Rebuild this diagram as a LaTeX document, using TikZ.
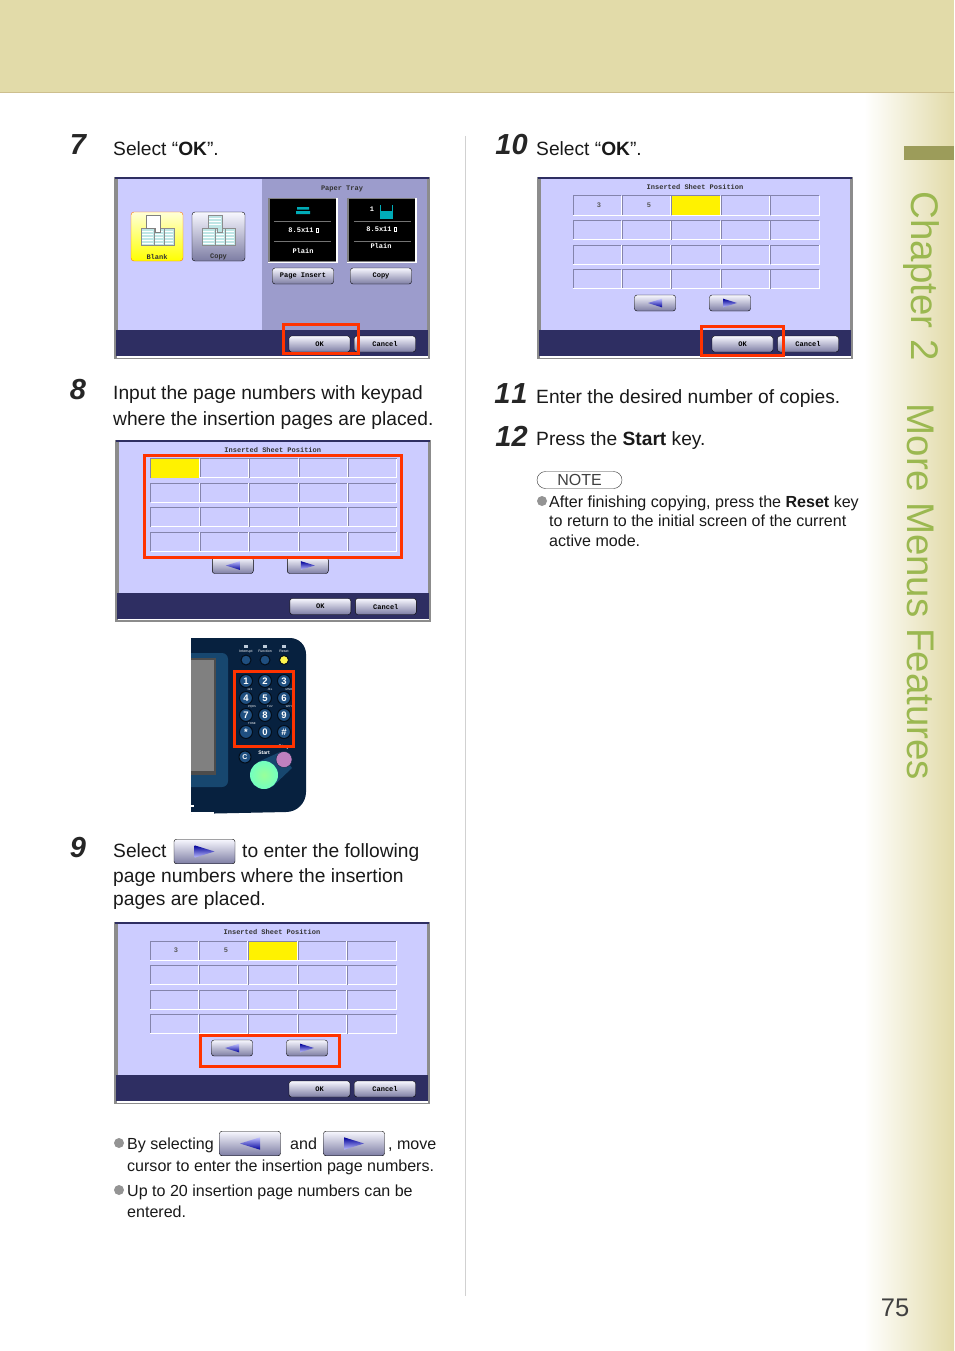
\documentclass[tikz,border=0pt]{standalone}
\usepackage{fontspec}
\setmainfont{Liberation Sans}
\newfontfamily\screenfont{Liberation Mono}
\usetikzlibrary{calc,positioning}
\definecolor{bandtan}{HTML}{E2DBA9}
\definecolor{bandline}{HTML}{CDBF8E}
\definecolor{tabolive}{HTML}{9C9C5A}
\definecolor{chapgreen}{HTML}{9BB850}
\definecolor{panelblue}{HTML}{CCCCFF}
\definecolor{traypanel}{HTML}{9C9CCC}
\definecolor{navyband}{HTML}{2E2E62}
\definecolor{markred}{HTML}{FF3300}
\definecolor{cellgray}{HTML}{8484AC}
\definecolor{keynavy}{HTML}{07213F}
\definecolor{bezelblue}{HTML}{17476F}
\definecolor{keyblue}{HTML}{1F4F80}
\definecolor{sheetcyan}{HTML}{BFE6E6}
\tikzset{
  txt/.style={anchor=base west,inner sep=0pt,text=black!90,font=\fontsize{19.2}{23}\selectfont},
  small/.style={txt,font=\fontsize{16.05}{20}\selectfont},
  stepno/.style={anchor=base,inner sep=0pt,text=black!85,font=\fontsize{29}{31}\selectfont\bfseries\itshape},
  dot/.style={circle,fill=black!42,minimum size=10pt,inner sep=0pt},
  btn/.style={draw=black,rounded corners=2.5pt,top color=white!85!panelblue,bottom color=black!20!traypanel,
    minimum width=61pt,minimum height=16pt,inner sep=0pt,font=\screenfont\bfseries\fontsize{7}{8}\selectfont},
  navbtn/.style={btn,minimum width=41pt},
  bigbtn/.style={btn,minimum width=61pt,minimum height=24.5pt},
  scrtxt/.style={inner sep=0pt,text=black!80,font=\screenfont\bfseries\fontsize{7}{8}\selectfont},
  traytxt/.style={scrtxt,text=white},
  redbox/.style={draw=markred,line width=3pt},
  numkey/.style={circle,fill=keyblue,draw=black!60!keynavy,line width=1pt,minimum size=13pt,inner sep=0pt,
    text=white,font=\bfseries\fontsize{9.5}{9}\selectfont},
  tiny/.style={inner sep=0pt,text=white,font=\fontsize{3.5}{4}\selectfont},
  sheet/.style={fill=sheetcyan,draw=black!45,line width=.4pt},
}
% triangle on a button: #1 node, #2 direction (1 or -1), #3 half length
\newcommand{\navtri}[3]{
  \shade[left color=blue!60!black,right color=blue!25!white,shading angle={90-90*#2}]
    ($(#1)+(-#2*#3,-0.62*#3)$) -- ($(#1)+(-#2*#3,0.62*#3)$) -- ($(#1)+(#2*#3,0)$) -- cycle;
}
% screen body, drawn from its top left corner
\newcommand{\screenbody}{
  \fill[black!45] (0,0) rectangle (316,182);
  \fill[white] (3,179) rectangle (314,180.5);
  \fill[navyband] (1,0) rectangle (315,2);
  \fill[panelblue] (4,2) rectangle (313,153);
  \fill[navyband] (2,153) rectangle (314,179);
}
% #1 suffix of the names
\newcommand{\okcancel}[1]{
  \node[btn] (ok#1) at (205.5,167) {OK};
  \node[btn] (cancel#1) at (271,167) {Cancel};
}
\newcommand{\sheetgrid}[2]{
  \node[scrtxt] (title#1) at (158,10) {Inserted Sheet Position};
  \foreach \r in {0,...,3} \foreach \c in {0,...,4} {
    \pgfmathsetmacro{\cx}{36+49.4*\c}
    \pgfmathsetmacro{\cy}{19+24.6*\r}
    \draw[cellgray,line width=1pt] (\cx,\cy+19) |- (\cx+48.4,\cy);
    \draw[white,line width=1pt] (\cx,\cy+19) -| (\cx+48.4,\cy);
  }
  \fill[yellow] (36.5+49.4*#2,19.5) rectangle (84+49.4*#2,38);
  \node[navbtn] (prev#1) at (118,126) {};
  \node[navbtn] (next#1) at (193,126) {};
  \navtri{prev#1}{-1}{7}
  \navtri{next#1}{1}{7}
}
\newcommand{\sheetstack}[1]{
  \foreach \s in {20,10,0} {
    \fill[sheet] (#1+\s,228) rectangle (#1+\s+13,245);
    \foreach \l in {231,234,...,243} \draw[white,line width=.8pt] (#1+\s+1,\l) -- (#1+\s+12,\l);
  }
}
\begin{document}
\begin{tikzpicture}[x=1pt,y=-1pt]
  \useasboundingbox (0,0) rectangle (954,1351);
  % page background
  \shade[left color=white,right color=bandtan] (864,92) rectangle (954,1351);
  \fill[bandtan] (0,0) rectangle (954,92);
  \draw[bandline] (0,92) -- (954,92);
  \fill[tabolive] (904,146) rectangle (954,160);
  \draw[black!18] (465.5,136) -- (465.5,1296);
  \node[rotate=-90,inner sep=0pt,text=chapgreen,font=\fontsize{38.5}{40}\selectfont] (chap) at (921,276) {Chapter 2};
  \node[rotate=-90,inner sep=0pt,text=chapgreen,font=\fontsize{38.5}{40}\selectfont] (menus) at (921,592) {More Menus Features};
  \node[inner sep=0pt,text=black!75,font=\fontsize{25.5}{26}\selectfont] (pageno) at (895,1308) {75};

  % step 7
  \node[stepno] (n7) at (78,155) {7};
  \node[txt] (t7) at (113,155.5) {Select “\textbf{OK}”.};
  \begin{scope}[shift={(114,177)}]
    \screenbody
    \fill[traypanel] (148,2) rectangle (313,153);
    \okcancel{7}
    \node[scrtxt] (tray) at (228,12) {Paper Tray};
    \node[btn,minimum width=52pt,minimum height=49pt,draw=orange!90!red,top color=white!85!yellow,bottom color=yellow,rounded corners=3pt] (blank) at (43,59.5) {};
    \node[btn,minimum width=53pt,minimum height=49pt,rounded corners=3pt] (copyicon) at (104.5,59.5) {};
    \node[scrtxt] (blanktxt) at (43,80) {Blank};
    \node[scrtxt] (copytxt) at (104.5,80) {Copy};
    \node[btn] (pageins) at (189,99) {Page Insert};
    \node[btn] (copybtn) at (267,99) {Copy};
  \end{scope}
  \sheetstack{141}
  \fill[white,draw=black!50,line width=.4pt] (146,215) -- (160,215) -- (160,232) -- (155,232) -- (155,228) -- (146,228) -- cycle;
  \sheetstack{202}
  \fill[sheet] (208,215) -- (222,215) -- (222,232) -- (217,232) -- (217,228) -- (208,228) -- cycle;
  \foreach \l in {218,221,224} \draw[white,line width=.8pt] (209,\l) -- (221,\l);
  % the two paper tray panels
  \fill[white] (268,198) rectangle (337.5,263);
  \fill[black!50] (268,198) rectangle (336,261.5);
  \fill[black] (269.5,199.5) rectangle (335.5,261);
  \fill[white] (347,198) rectangle (416.5,263);
  \fill[black!50] (347,198) rectangle (415,261.5);
  \fill[black] (348.5,199.5) rectangle (414.5,261);
  \foreach \x in {274,354} \foreach \y in {221,241} \draw[black!55] (\x,\y) -- (\x+57,\y);
  \fill[cyan!65!green] (297,207) rectangle (309,209.5) (296,211) rectangle (310,214);
  \node[traytxt] (size1) at (301,230) {8.5x11};
  \draw[white,line width=.4pt] (316,228) rectangle (318.5,232);
  \node[traytxt] (plain1) at (303,251) {Plain};
  \node[traytxt] (one) at (372,209.5) {1};
  \draw[cyan!65!green,line width=1pt] (380,205) -- (380,218) -- (392,218) -- (392,205);
  \fill[cyan!65!green] (380,211) rectangle (392,218);
  \node[traytxt] (size2) at (379,229.5) {8.5x11};
  \draw[white,line width=.4pt] (394,227.5) rectangle (396.5,231.5);
  \node[traytxt] (plain2) at (381,246) {Plain};
  \draw[redbox] (283,324) rectangle (358,353);

  % step 8
  \node[stepno] (n8) at (78,399) {8};
  \node[txt] (t8a) at (113,399) {Input the page numbers with keypad};
  \node[txt] (t8b) at (113,425) {where the insertion pages are placed.};
  \begin{scope}[shift={(114.8,439.5)}]
    \screenbody
    \okcancel{8}
    \sheetgrid{8}{0}
  \end{scope}
  \draw[redbox] (144,455) rectangle (401,557);

  % keypad photo
  \fill[keynavy] (191,638) -- (290,638) to[out=0,in=90] (306,654) -- (306,792) to[out=-90,in=0] (286,812) -- (191,814) -- cycle;
  \fill[bezelblue,rounded corners=6pt] (185,653) -- (228,653) -- (228,787) -- (185,787) -- cycle;
  \fill[white] (180,640) rectangle (191,815);
  \fill[black!70] (191,658) -- (216,658) -- (216,775) -- (191,775) -- cycle;
  \fill[black!50] (191,660) -- (214,660) -- (214,771) -- (191,771) -- cycle;
  \fill[white] (191,812) rectangle (214,814);
  \fill[white] (191,805) rectangle (194,807);
  \foreach \k/\x/\y/\c in {1/246/681/1,2/265/681/2,3/284/681/3,4/246/698/4,5/265/698/5,6/284/698/6,7/246/715/7,8/265/715/8,9/284/715/9,10/246/732/*,11/265/732/0,12/284/732/\#}
    \node[numkey] (key\k) at (\x,\y) {\c};
  \foreach \k/\x/\y/\c in {2/270/673/ABC,3/289/673/DEF,4/250/689.5/GHI,5/270/689.5/JKL,6/289/689.5/MNO,7/252/706.5/PQRS,8/270/706.5/TUV,9/289/706.5/WXY,10/252/724/TONE}
    \node[tiny,font=\fontsize{2.8}{3}\selectfont] (sub\k) at (\x,\y) {\c};
  \node[numkey,minimum size=10pt] (intr) at (246,660) {};
  \node[numkey,minimum size=10pt] (func) at (265,660) {};
  \node[numkey,minimum size=9pt,fill=yellow!70!white] (resetkey) at (284,660) {};
  \node[tiny] (intrtxt) at (246,651.5) {Interrupt};
  \node[tiny] (functxt) at (265,651.5) {Function};
  \node[tiny] (resettxt) at (284,651.5) {Reset};
  \foreach \x in {246,265,284} \fill[white!70!keyblue] (\x-2,645) rectangle (\x+2,648);
  \node[numkey,minimum size=12pt,font=\bfseries\fontsize{7}{7}\selectfont] (clear) at (245,757) {C};
  \node[tiny,font=\bfseries\fontsize{5}{5}\selectfont] (starttxt) at (264,753) {Start};
  \node[tiny,font=\bfseries\fontsize{5}{5}\selectfont] (stoptxt) at (284,747.5) {Stop};
  \fill[bezelblue] (258,762) -- (280,752) -- (292,768) -- (272,787) -- cycle;
  \node[circle,draw=keynavy,fill=violet!50!white,minimum size=16pt,inner sep=0pt] (stopkey) at (284,759.5) {};
  \node[circle,inner color=white!60!green,outer color=green!45!cyan!55!white,minimum size=28pt,inner sep=0pt] (startkey) at (264,775) {};
  \draw[redbox] (234.5,671.5) rectangle (293,746);

  % step 9
  \node[stepno] (n9) at (78,857) {9};
  \node[txt] (t9a) at (113,857) {Select};
  \node[bigbtn] (nextbtn) at (204.5,851.5) {};
  \navtri{nextbtn}{1}{10}
  \node[txt] (t9b) at (242,857) {to enter the following};
  \node[txt] (t9c) at (113,882) {page numbers where the insertion};
  \node[txt] (t9d) at (113,905) {pages are placed.};
  \begin{scope}[shift={(114,922)}]
    \screenbody
    \okcancel{9}
    \sheetgrid{9}{2}
    \node[scrtxt,text=black!65] (c91) at (62,28) {3};
    \node[scrtxt,text=black!65] (c92) at (112,28) {5};
  \end{scope}
  \draw[redbox] (200,1035) rectangle (339,1066);

  % bullets below step 9
  \node[dot] (dotA) at (119,1143) {};
  \node[small] (bA1) at (127,1149) {By selecting};
  \node[bigbtn] (prevbig) at (250,1143.5) {};
  \navtri{prevbig}{-1}{10}
  \node[small] (bA2) at (290,1149) {and};
  \node[bigbtn] (nextbig) at (354,1143.5) {};
  \navtri{nextbig}{1}{10}
  \node[small] (bA3) at (388,1149) {, move};
  \node[small] (bA4) at (127,1171) {cursor to enter the insertion page numbers.};
  \node[dot] (dotB) at (119,1190) {};
  \node[small] (bB1) at (127,1196) {Up to 20 insertion page numbers can be};
  \node[small] (bB2) at (127,1217) {entered.};

  % step 10
  \node[stepno] (n10) at (511.5,155) {10};
  \node[txt] (t10) at (536,155.5) {Select “\textbf{OK}”.};
  \begin{scope}[shift={(537,177)}]
    \screenbody
    \okcancel{10}
    \sheetgrid{10}{2}
    \node[scrtxt,text=black!65] (c101) at (62,28) {3};
    \node[scrtxt,text=black!65] (c102) at (112,28) {5};
  \end{scope}
  \draw[redbox] (701,326) rectangle (783,355);

  % steps 11 and 12, note
  \node[stepno] (n11) at (511,403) {1\kern1pt 1};
  \node[txt] (t11) at (536,403) {Enter the desired number of copies.};
  \node[stepno] (n12) at (511.5,446) {12};
  \node[txt] (t12) at (536,445) {Press the \textbf{Start} key.};
  \node[draw=black!80,fill=white,rounded corners=8.5pt,minimum width=85pt,minimum height=17pt,inner sep=0pt,
    text=black!75,font=\fontsize{16}{16}\selectfont] (note) at (579.5,480) {NOTE};
  \node[dot] (dotC) at (542,501) {};
  \node[small] (c1) at (549,507) {After finishing copying, press the \textbf{Reset} key};
  \node[small] (c2) at (549,526) {to return to the initial screen of the current};
  \node[small] (c3) at (549,546) {active mode.};
\end{tikzpicture}
\end{document}
